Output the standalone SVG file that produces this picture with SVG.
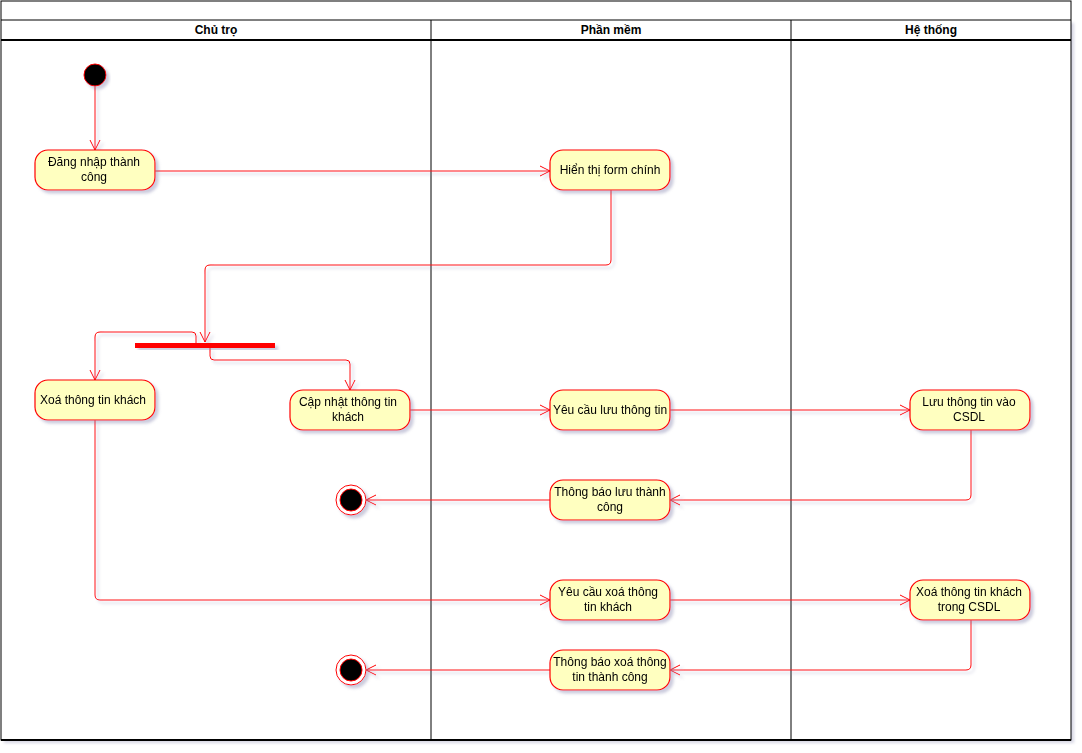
<svg xmlns="http://www.w3.org/2000/svg" width="1082" height="753" viewBox="0 0 1082 753">
<defs>
<filter id="sh" x="-20%" y="-20%" width="140%" height="150%">
<feDropShadow dx="3" dy="3" stdDeviation="1.5" flood-color="#8c8cb4" flood-opacity="0.45"/>
</filter>
<filter id="shl" x="-5%" y="-5%" width="110%" height="110%">
<feDropShadow dx="3" dy="3" stdDeviation="1.5" flood-color="#8c8cb4" flood-opacity="0.35"/>
</filter>
<marker id="arr" viewBox="0 0 12 12" refX="11" refY="6" markerWidth="12" markerHeight="12" markerUnits="userSpaceOnUse" orient="auto">
<path d="M1,1 L11,6 L1,11" fill="none" stroke="#ff0000" stroke-width="1"/>
</marker>
<style>
.lane{fill:none;stroke:#000;stroke-width:1}
.hdr{font-family:"Liberation Sans",Arial,sans-serif;font-size:12px;font-weight:bold;fill:#000;text-anchor:middle}
.node rect{fill:#ffffc0;stroke:#ff0000;stroke-width:1.2}
.node text{font-family:"Liberation Sans",Arial,sans-serif;font-size:12px;fill:#000;text-anchor:middle}
.con path{fill:none;stroke:#ff0000;stroke-width:1}
.start{fill:#000;stroke:#ff0000;stroke-width:1}
</style>
</defs>
<rect width="1082" height="753" fill="#fff"/>
<g id="frame">
<rect x="1" y="20" width="1070" height="720" fill="#fff" stroke="none" filter="url(#shl)"/>
<rect x="1" y="1" width="1070" height="739" class="lane"/>
<line x1="1" y1="20" x2="1071" y2="20" stroke="#000" stroke-width="1"/>
<line x1="1" y1="40" x2="1071" y2="40" stroke="#000" stroke-width="2"/>
<line x1="1" y1="740" x2="1071" y2="740" stroke="#000" stroke-width="2"/>
<line x1="431" y1="20" x2="431" y2="740" stroke="#000" stroke-width="1"/>
<line x1="791" y1="20" x2="791" y2="740" stroke="#000" stroke-width="1"/>
<text class="hdr" x="216" y="34">Chủ trọ</text>
<text class="hdr" x="611" y="34">Phần mềm</text>
<text class="hdr" x="931" y="34">Hệ thống</text>
</g>
<g id="connectors" class="con" filter="url(#sh)">
<path d="M95,86 L95,150" marker-end="url(#arr)"/>
<path d="M155,171 L550,171" marker-end="url(#arr)"/>
<path d="M611,190 L611,260 Q611,265 606,265 L210,265 Q205,265 205,270 L205,342" marker-end="url(#arr)"/>
<path d="M196,343 L196,336 Q196,332 192,332 L100,332 Q95,332 95,337 L95,380" marker-end="url(#arr)"/>
<path d="M210,348 L210,356 Q210,360 214,360 L346,360 Q350,360 350,364 L350,390" marker-end="url(#arr)"/>
<path d="M410,410 L550,410" marker-end="url(#arr)"/>
<path d="M670,410 L910,410" marker-end="url(#arr)"/>
<path d="M971,430 L971,495 Q971,500 966,500 L670,500" marker-end="url(#arr)"/>
<path d="M550,500 L366,500" marker-end="url(#arr)"/>
<path d="M95,420 L95,595 Q95,600 100,600 L550,600" marker-end="url(#arr)"/>
<path d="M670,600 L910,600" marker-end="url(#arr)"/>
<path d="M971,620 L971,665 Q971,670 966,670 L670,670" marker-end="url(#arr)"/>
<path d="M550,670 L366,670" marker-end="url(#arr)"/>
</g>
<g id="start" filter="url(#sh)">
<circle class="start" cx="95" cy="75" r="11"/>
</g>
<g id="fork" filter="url(#sh)">
<rect x="135" y="343" width="140" height="5" fill="#ff0000"/>
</g>
<g id="n_dangnhap" class="node" filter="url(#sh)">
<rect x="35" y="150" width="120" height="40" rx="13"/>
<text x="94" y="166">Đăng nhập thành</text>
<text x="94" y="181">công</text>
</g>
<g id="n_hienthi" class="node" filter="url(#sh)">
<rect x="550" y="150" width="120" height="40" rx="13"/>
<text x="610" y="174">Hiển thị form chính</text>
</g>
<g id="n_xoa" class="node" filter="url(#sh)">
<rect x="35" y="380" width="120" height="40" rx="13"/>
<text x="93" y="404">Xoá thông tin khách</text>
</g>
<g id="n_capnhat" class="node" filter="url(#sh)">
<rect x="290" y="390" width="120" height="40" rx="13"/>
<text x="348" y="406">Cập nhật thông tin</text>
<text x="348" y="421">khách</text>
</g>
<g id="n_yeucauluu" class="node" filter="url(#sh)">
<rect x="550" y="390" width="120" height="40" rx="13"/>
<text x="610" y="414">Yêu cầu lưu thông tin</text>
</g>
<g id="n_luu" class="node" filter="url(#sh)">
<rect x="910" y="390" width="120" height="40" rx="13"/>
<text x="969" y="406">Lưu thông tin vào</text>
<text x="969" y="421">CSDL</text>
</g>
<g id="n_tbluu" class="node" filter="url(#sh)">
<rect x="550" y="480" width="120" height="40" rx="13"/>
<text x="610" y="496">Thông báo lưu thành</text>
<text x="610" y="511">công</text>
</g>
<g id="end1" filter="url(#sh)">
<circle cx="351" cy="500" r="15" fill="#fff" stroke="#ff0000" stroke-width="1"/>
<circle cx="351" cy="500" r="11" fill="#000" stroke="#ff0000" stroke-width="1"/>
</g>
<g id="n_yeucauxoa" class="node" filter="url(#sh)">
<rect x="550" y="580" width="120" height="40" rx="13"/>
<text x="608" y="596">Yêu cầu xoá thông</text>
<text x="608" y="611">tin khách</text>
</g>
<g id="n_xoacsdl" class="node" filter="url(#sh)">
<rect x="910" y="580" width="120" height="40" rx="13"/>
<text x="969" y="596">Xoá thông tin khách</text>
<text x="969" y="611">trong CSDL</text>
</g>
<g id="n_tbxoa" class="node" filter="url(#sh)">
<rect x="550" y="650" width="120" height="40" rx="13"/>
<text x="610" y="666">Thông báo xoá thông</text>
<text x="610" y="681">tin thành công</text>
</g>
<g id="end2" filter="url(#sh)">
<circle cx="351" cy="670" r="15" fill="#fff" stroke="#ff0000" stroke-width="1"/>
<circle cx="351" cy="670" r="11" fill="#000" stroke="#ff0000" stroke-width="1"/>
</g>
</svg>
